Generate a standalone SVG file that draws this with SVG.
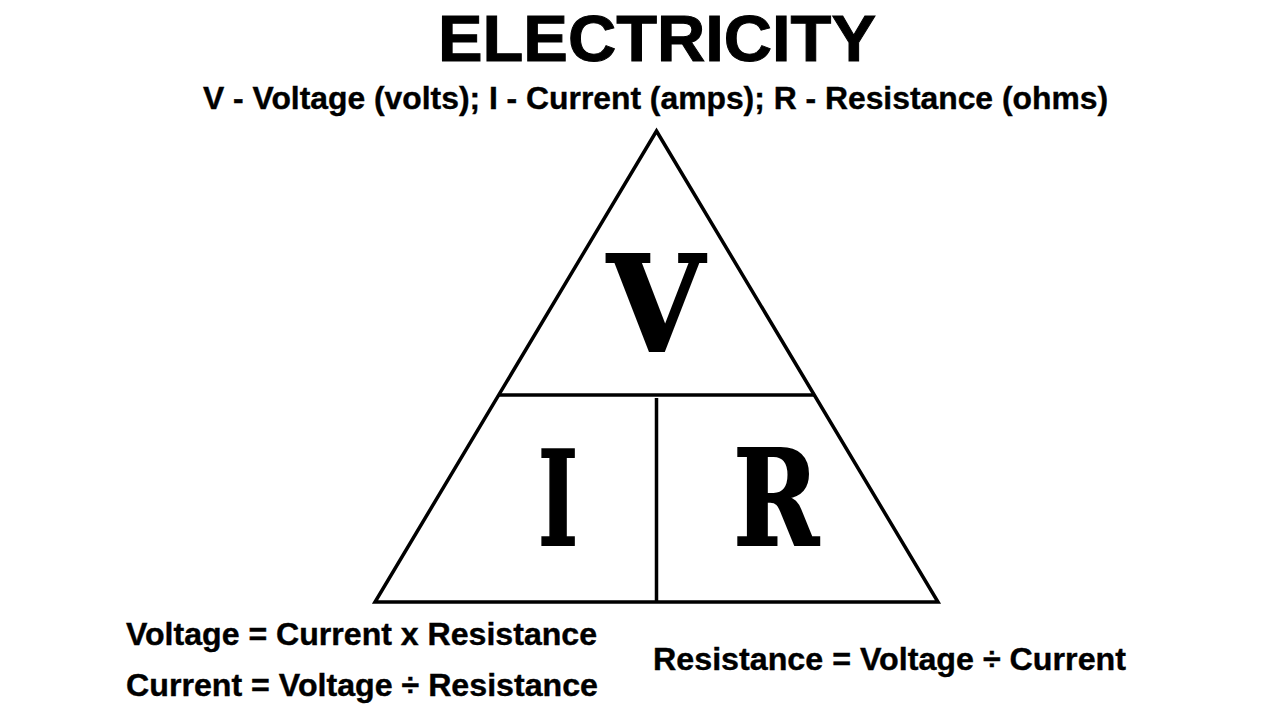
<svg xmlns="http://www.w3.org/2000/svg" width="1280" height="720" viewBox="0 0 1280 720">
<style>
text{fill:#000;font-family:"Liberation Sans",Arial,sans-serif;font-weight:700}
.s{font-family:"DejaVu Serif","Liberation Serif",serif;font-size:132px;text-anchor:middle;stroke:#000;stroke-width:2}
.e{font-size:32px;stroke:#000;stroke-width:.4}
.l{fill:none;stroke:#000;stroke-width:3.500}
</style>
<rect width="1280" height="720" fill="#fff"/>
<g id="shape">
<path class="l" d="M656.500 131L938 602H375Z"/>
<path class="l" d="M498 395H815"/>
<path class="l" d="M656.500 398V602"/>
</g>
<text x="657" y="61" font-size="65" text-anchor="middle" textLength="438" lengthAdjust="spacingAndGlyphs" stroke="#000" stroke-width="1">ELECTRICITY</text>
<text class="e" x="655.500" y="109" text-anchor="middle" textLength="905" lengthAdjust="spacingAndGlyphs">V - Voltage (volts); I - Current (amps); R - Resistance (ohms)</text>
<text class="s" transform="translate(656 351) scale(.95 1)">V</text>
<text class="s" transform="translate(558 545) scale(.65 1)">I</text>
<text class="s" transform="translate(776 545) scale(.78 1)">R</text>
<text class="e" x="126" y="645" textLength="471" lengthAdjust="spacingAndGlyphs">Voltage = Current x Resistance</text>
<text class="e" x="126" y="696" textLength="472" lengthAdjust="spacingAndGlyphs">Current = Voltage ÷ Resistance</text>
<text class="e" x="653" y="670" textLength="473" lengthAdjust="spacingAndGlyphs">Resistance = Voltage ÷ Current</text>
</svg>
